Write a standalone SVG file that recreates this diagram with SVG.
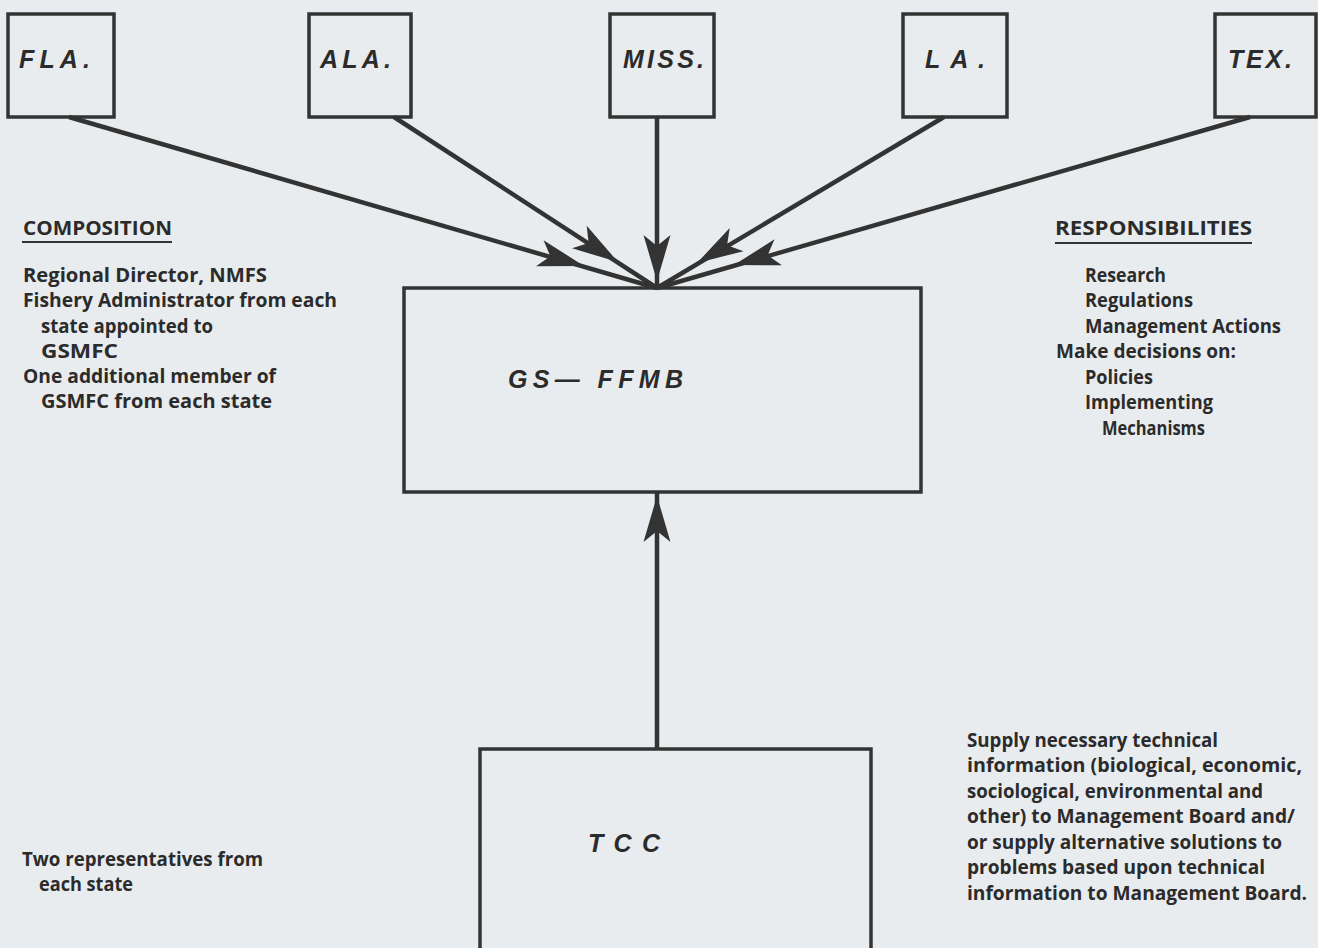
<svg xmlns="http://www.w3.org/2000/svg" xmlns:xlink="http://www.w3.org/1999/xlink" width="1318" height="948" viewBox="0 0 1318 948">
<style>
.bg{fill:#e9ecee}
.box{fill:none;stroke:#333;stroke-width:3.5}
.st{font-family:"Liberation Sans",Arial,sans-serif;font-weight:bold;font-style:italic;font-size:25px;fill:#2b2b2b}
.tx{font-family:"Open Sans","Liberation Sans",sans-serif;font-weight:bold;font-size:19.5px;fill:#2b2b2b}
.ln{stroke:#333;stroke-width:4.5;fill:none}
.ul{stroke:#333;stroke-width:2}
.ah{fill:#333}
</style>
<defs>
<path id="ah" d="M0,0 L-46,-13.5 L-35,0 L-46,13.5 Z"/>
</defs>
<rect class="bg" x="0" y="0" width="1318" height="948"/>

<g id="connectors">
<line class="ln" x1="69" y1="117" x2="657" y2="288"/>
<line class="ln" x1="394" y1="117" x2="657" y2="288"/>
<line class="ln" x1="657" y1="117" x2="657" y2="288"/>
<line class="ln" x1="944" y1="117" x2="657" y2="288"/>
<line class="ln" x1="1250" y1="117" x2="657" y2="288"/>
<line class="ln" x1="657" y1="749" x2="657" y2="493"/>
<use class="ah" xlink:href="#ah" href="#ah" transform="translate(584,266) rotate(16.13)"/>
<use class="ah" xlink:href="#ah" href="#ah" transform="translate(618,262) rotate(32.88)"/>
<use class="ah" xlink:href="#ah" href="#ah" transform="translate(657,281) rotate(90)"/>
<use class="ah" xlink:href="#ah" href="#ah" transform="translate(697,263) rotate(149.36)"/>
<use class="ah" xlink:href="#ah" href="#ah" transform="translate(734,265) rotate(164)"/>
<use class="ah" xlink:href="#ah" href="#ah" transform="translate(657,496) rotate(-90)"/>
</g>

<g id="fla">
<rect class="box" x="8" y="14" width="106" height="103"/>
<text class="st" x="19" y="68" textLength="71">FLA.</text>
</g>
<g id="ala">
<rect class="box" x="309" y="14" width="102" height="103"/>
<text class="st" x="320" y="68" textLength="71">ALA.</text>
</g>
<g id="miss">
<rect class="box" x="610" y="14" width="104" height="103"/>
<text class="st" x="623" y="68" textLength="81">MISS.</text>
</g>
<g id="la">
<rect class="box" x="903" y="14" width="104" height="103"/>
<text class="st" x="925" y="68" textLength="60">LA.</text>
</g>
<g id="tex">
<rect class="box" x="1215" y="14" width="101" height="103"/>
<text class="st" x="1228" y="68" textLength="64">TEX.</text>
</g>

<g id="gsffmb">
<rect class="box" x="404" y="288" width="517" height="204"/>
<text class="st" x="508" y="388" textLength="175">GS— FFMB</text>
</g>

<g id="tcc">
<rect class="box" x="480" y="749" width="391" height="220"/>
<text class="st" x="588" y="852" textLength="72">T C C</text>
</g>

<g id="composition">
<text class="tx" x="23" y="235" textLength="149" lengthAdjust="spacingAndGlyphs">COMPOSITION</text>
<line class="ul" x1="22" y1="242" x2="172" y2="242"/>
<text class="tx" x="23" y="282" textLength="244" lengthAdjust="spacingAndGlyphs">Regional Director, NMFS</text>
<text class="tx" x="23" y="307" textLength="314" lengthAdjust="spacingAndGlyphs">Fishery Administrator from each</text>
<text class="tx" x="41" y="333" textLength="172" lengthAdjust="spacingAndGlyphs">state appointed to</text>
<text class="tx" x="41" y="358" textLength="77" lengthAdjust="spacingAndGlyphs">GSMFC</text>
<text class="tx" x="23" y="383" textLength="253" lengthAdjust="spacingAndGlyphs">One additional member of</text>
<text class="tx" x="41" y="408" textLength="231" lengthAdjust="spacingAndGlyphs">GSMFC from each state</text>
</g>

<g id="responsibilities">
<text class="tx" x="1055" y="235" textLength="197" lengthAdjust="spacingAndGlyphs">RESPONSIBILITIES</text>
<line class="ul" x1="1055" y1="243" x2="1252" y2="243"/>
<text class="tx" x="1085" y="282" textLength="81" lengthAdjust="spacingAndGlyphs">Research</text>
<text class="tx" x="1085" y="307" textLength="108" lengthAdjust="spacingAndGlyphs">Regulations</text>
<text class="tx" x="1085" y="333" textLength="196" lengthAdjust="spacingAndGlyphs">Management Actions</text>
<text class="tx" x="1056" y="358" textLength="180" lengthAdjust="spacingAndGlyphs">Make decisions on:</text>
<text class="tx" x="1085" y="384" textLength="68" lengthAdjust="spacingAndGlyphs">Policies</text>
<text class="tx" x="1085" y="409" textLength="128" lengthAdjust="spacingAndGlyphs">Implementing</text>
<text class="tx" x="1102" y="435" textLength="103" lengthAdjust="spacingAndGlyphs">Mechanisms</text>
</g>

<g id="tcc-composition">
<text class="tx" x="22" y="866" textLength="241" lengthAdjust="spacingAndGlyphs">Two representatives from</text>
<text class="tx" x="39" y="891" textLength="94" lengthAdjust="spacingAndGlyphs">each state</text>
</g>

<g id="tcc-responsibilities">
<text class="tx" x="967" y="747" textLength="251" lengthAdjust="spacingAndGlyphs">Supply necessary technical</text>
<text class="tx" x="967" y="772" textLength="335" lengthAdjust="spacingAndGlyphs">information (biological, economic,</text>
<text class="tx" x="967" y="798" textLength="296" lengthAdjust="spacingAndGlyphs">sociological, environmental and</text>
<text class="tx" x="967" y="823" textLength="328" lengthAdjust="spacingAndGlyphs">other) to Management Board and/</text>
<text class="tx" x="967" y="849" textLength="315" lengthAdjust="spacingAndGlyphs">or supply alternative solutions to</text>
<text class="tx" x="967" y="874" textLength="298" lengthAdjust="spacingAndGlyphs">problems based upon technical</text>
<text class="tx" x="967" y="900" textLength="340" lengthAdjust="spacingAndGlyphs">information to Management Board.</text>
</g>
</svg>
